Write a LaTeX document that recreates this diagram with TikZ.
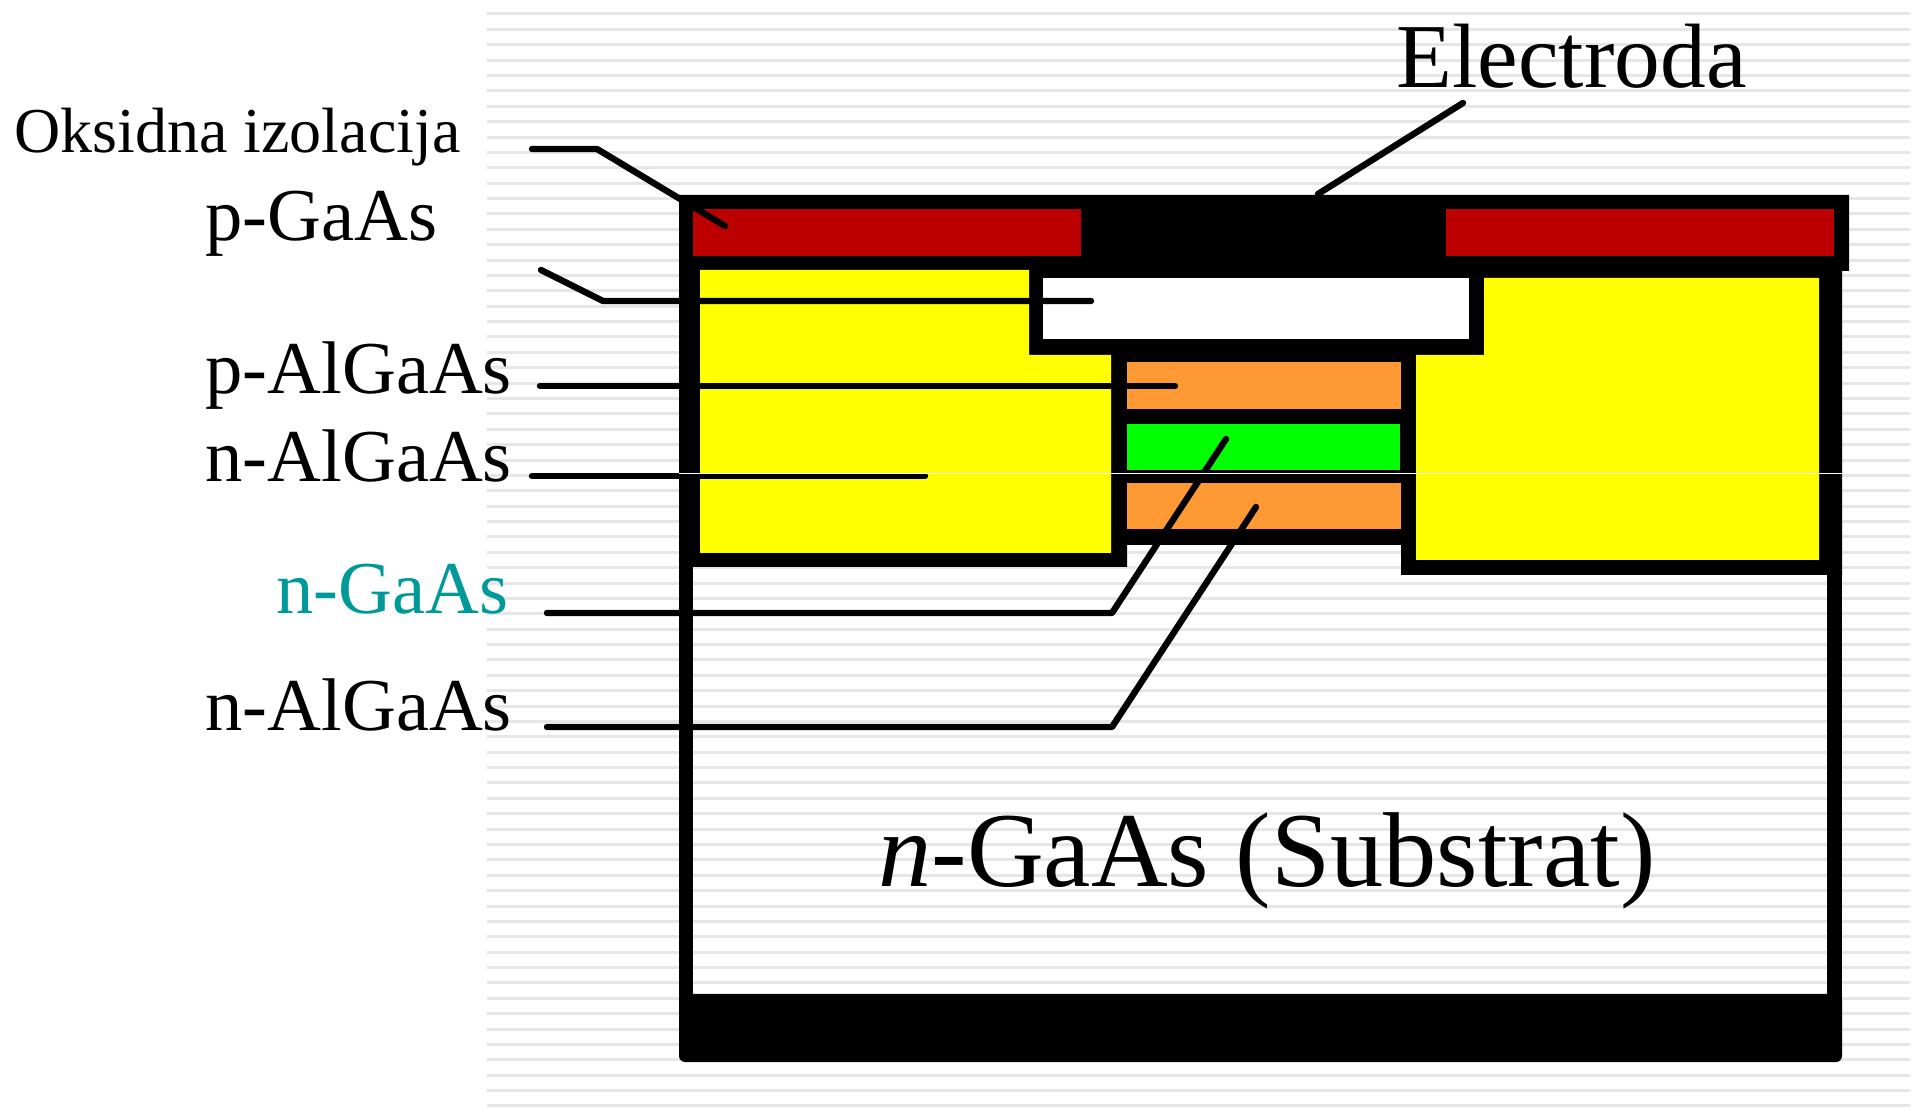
\documentclass[tikz,border=0pt]{standalone}
\usepackage{fontspec}
\setmainfont{Liberation Serif}
\usepackage{xcolor}
\usetikzlibrary{positioning, calc}
\definecolor{StripeGrey}{RGB}{230,230,230}
\definecolor{OxideRed}{RGB}{188,0,0}
\definecolor{MesaYellow}{RGB}{255,255,0}
\definecolor{LayerOrange}{RGB}{255,153,51}
\definecolor{LayerGreen}{RGB}{0,255,0}
\definecolor{LabelTeal}{RGB}{0,153,153}

\begin{document}
\begin{tikzpicture}[
        x=0.5pt,y=-0.5pt,
        stripe/.style={StripeGrey,line width=1.5pt},
        solid/.style={fill=black,draw=none},
        layer/.style={draw=none},
        lead/.style={black,line width=3.2pt,line cap=round,line join=round},
        lbl/.style={anchor=base west,inner sep=0pt,font=\fontsize{37.3}{37}\selectfont}
      ]
        \useasboundingbox (0,0) rectangle (1918,1111);
        % background stripes
        \foreach \i in {0,...,71}
          \draw[stripe] (487,14+15.38*\i) -- (1910,14+15.38*\i);
        % black body and walls
        \fill[solid] (679,195) -- (1849,195) -- (1849,271) -- (1842,271) -- (1842,575)
          -- (1401,575) -- (1401,545) -- (1127,545) -- (1127,567) -- (679,567) -- cycle;
        \fill[solid] (679,195) rectangle (693,1000);
        \fill[solid] (1827,500) rectangle (1842,1000);
        \fill[solid,rounded corners=3pt] (679,994) rectangle (1842,1062);
        % layers
        \fill[layer,OxideRed] (693,209) rectangle (1081,256);
        \fill[layer,OxideRed] (1446,209) rectangle (1834,256);
        \fill[layer,MesaYellow] (700,270) -- (1029,270) -- (1029,355) -- (1111,355)
          -- (1111,553) -- (700,553) -- cycle;
        \fill[layer,MesaYellow] (1484,278) -- (1819,278) -- (1819,560) -- (1416,560)
          -- (1416,355) -- (1484,355) -- cycle;
        \fill[layer,white] (1043,278) rectangle (1469,339);
        \fill[layer,LayerOrange] (1127,362) rectangle (1401,409);
        \fill[layer,LayerGreen] (1127,424) rectangle (1400,470);
        \fill[layer,LayerOrange] (1127,483) rectangle (1401,529);
        % labels
        \node[lbl,font=\fontsize{45.7}{46}\selectfont] (electroda) at (1396,88) {Electroda};
        \node[lbl,font=\fontsize{32}{32}\selectfont] (oxide) at (14,153) {Oksidna izolacija};
        \node[lbl] (pgaas) at (205,241) {p-GaAs};
        \node[lbl] (palgaas) at (205,394) {p-AlGaAs};
        \node[lbl] (nalgaasa) at (205,482) {n-AlGaAs};
        \node[lbl,LabelTeal] (ngaas) at (276,614) {n-GaAs};
        \node[lbl] (nalgaasb) at (205,731) {n-AlGaAs};
        \node[lbl,font=\fontsize{53.2}{53}\selectfont] (substrat) at (878,887) {\textit{n}-GaAs (Substrat)};
        % leader ends
        \coordinate (oxA) at (532,149);
        \coordinate (oxB) at (597,149);
        \coordinate (oxC) at (725,226);
        \coordinate (elA) at (1463,103);
        \coordinate (elB) at (1318,194);
        \coordinate (pgA) at (541,270);
        \coordinate (pgB) at (603,301);
        \coordinate (pgC) at (1091,301);
        \coordinate (paA) at (540,386);
        \coordinate (paB) at (1175,386);
        \coordinate (naA) at (532,476);
        \coordinate (naB) at (925,476);
        \coordinate (ngA) at (547,613);
        \coordinate (ngB) at (1112,613);
        \coordinate (ngC) at (1226,439);
        \coordinate (nbA) at (547,727);
        \coordinate (nbB) at (1112,727);
        \coordinate (nbC) at (1256,507);
        \draw[lead] (oxA)--(oxB)--(oxC);
        \draw[lead] (elA)--(elB);
        \draw[lead] (pgA)--(pgB)--(pgC);
        \draw[lead] (paA)--(paB);
        \draw[lead] (naA)--(naB);
        \draw[lead] (ngA)--(ngB)--(ngC);
        \draw[lead] (nbA)--(nbB)--(nbC);
        % thin seam across the device
        \draw[white,line width=0.4pt] (679,473) -- (1842,473);
      \end{tikzpicture}
\end{document}
